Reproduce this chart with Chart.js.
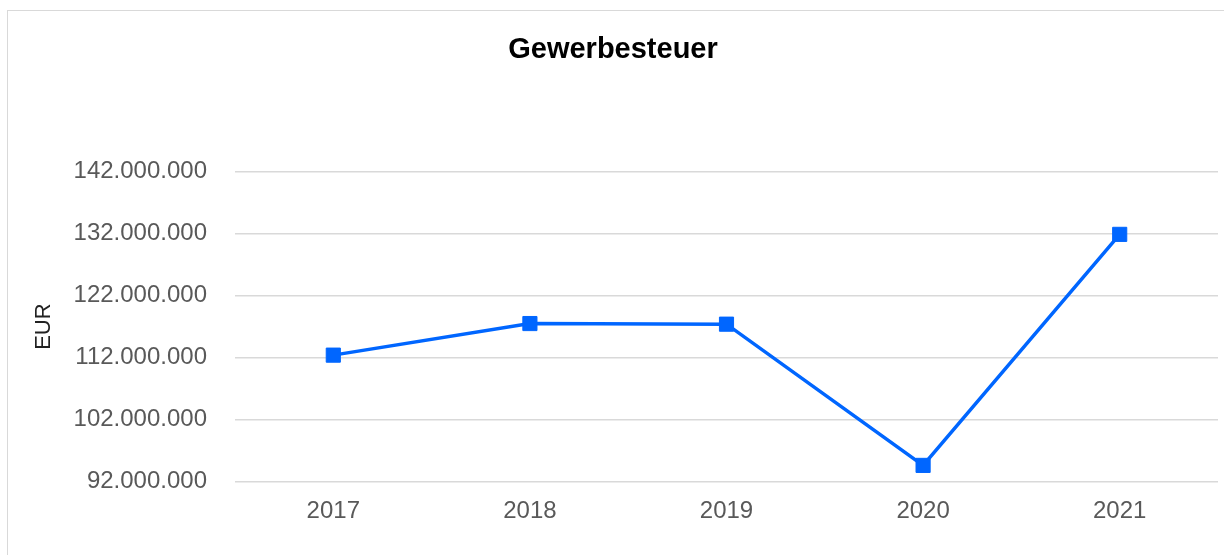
<!DOCTYPE html>
<html>
<head>
<meta charset="utf-8">
<script src="https://cdn.jsdelivr.net/npm/chart.js@4.4.1/dist/chart.umd.min.js"></script>
<style>
  html, body { margin: 0; padding: 0; background: #fff; overflow: hidden; width: 1224px; height: 555px; }
  #wrap { position: absolute; left: 7px; top: 10px; width: 1234px; height: 545px;
          border-left: 1px solid #d9d9d9; border-top: 1px solid #d9d9d9; }
  canvas { display: block; }
</style>
</head>
<body>
<div id="wrap"><canvas id="c" width="1234" height="545" style="width:1234px;height:545px"></canvas></div>
<script>
const categories = ['2017', '2018', '2019', '2020', '2021'];
const values = [112400000, 117500000, 117400000, 94600000, 131900000];
const seriesLabel = 'Gewerbesteuer';
const chartTitle = 'Gewerbesteuer';
const yAxisTitle = 'EUR';
const yMin = 92000000;
const yMax = 142000000;
const yStep = 10000000;

function fmt(v) {
  return String(Math.round(v)).replace(/\B(?=(\d{3})+(?!\d))/g, '.');
}

const FONT = '"Liberation Sans", Arial, Helvetica, sans-serif';

new Chart(document.getElementById('c'), {
  type: 'line',
  data: {
    labels: categories,
    datasets: [{
      label: seriesLabel,
      data: values,
      borderColor: '#0066FF',
      backgroundColor: '#0066FF',
      borderWidth: 3.5,
      pointStyle: 'rect',
      pointRadius: 10,
      pointBorderWidth: 1,
      pointBackgroundColor: '#0066FF',
      pointBorderColor: '#0066FF',
      tension: 0,
      fill: false
    }]
  },
  options: {
    responsive: false,
    maintainAspectRatio: false,
    animation: false,
    devicePixelRatio: 1,
    layout: { padding: { left: 0, right: 24, top: 0, bottom: 0 } },
    plugins: {
      legend: { display: false },
      tooltip: { enabled: false },
      title: {
        display: true,
        text: chartTitle,
        color: '#000',
        font: { family: FONT, size: 29, weight: 'bold' },
        padding: { top: 22, bottom: 104 }
      }
    },
    scales: {
      x: {
        offset: true,
        grid: { display: false, drawTicks: false },
        border: { display: false },
        ticks: { color: '#595959', font: { family: FONT, size: 24 }, padding: 15 },
        afterFit: (s) => { s.height = 74.5; }
      },
      y: {
        min: yMin,
        max: yMax,
        grid: { color: '#d9d9d9', lineWidth: 1.4, drawTicks: false },
        border: { display: false },
        ticks: {
          stepSize: yStep,
          color: '#595959',
          font: { family: FONT, size: 24 },
          padding: 28,
          callback: (v) => fmt(v)
        },
        title: {
          display: true,
          text: yAxisTitle,
          color: '#222',
          font: { family: FONT, size: 22 },
          padding: { top: 23, bottom: 0 }
        },
        afterFit: (s) => { s.width = 227; }
      }
    }
  }
});
</script>
</body>
</html>
